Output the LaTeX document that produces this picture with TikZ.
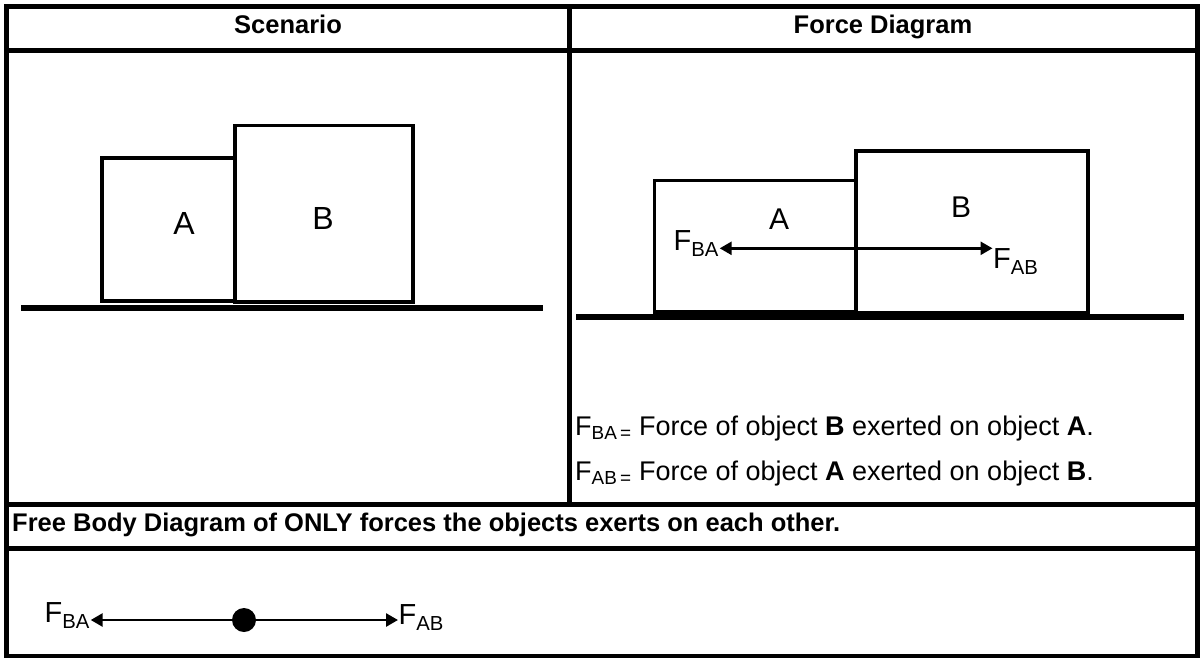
\documentclass[tikz,border=0pt]{standalone}
\usepackage{fontspec}
\setmainfont{Liberation Sans}
\usetikzlibrary{arrows.meta, positioning}

\begin{document}
\begin{tikzpicture}[x=1pt, y=-1pt, >={Triangle[length=12pt, width=13pt]},
    rule/.style={line width=5pt},
    box/.style={line width=3.8pt},
    floor/.style={line width=6pt},
    force/.style={line width=2.7pt},
    head/.style={font=\fontsize{25.5}{30}\selectfont\bfseries, anchor=base},
    big/.style={font=\fontsize{32}{38}\selectfont, inner sep=0pt},
    lbl/.style={font=\fontsize{29}{34}\selectfont, inner sep=0.5pt},
    legend/.style={font=\fontsize{27}{32}\selectfont, anchor=base west, inner sep=0pt}]

    \useasboundingbox (0,0) rectangle (1201,657);

    % --- Table ---
    \draw[rule] (6,6) rectangle (1197.5,656);
    \draw[rule] (6,50.5) -- (1197.5,50.5);
    \draw[rule] (569.5,6) -- (569.5,504);
    \draw[rule] (6,504) -- (1197.5,504);
    \draw[rule] (6,548) -- (1197.5,548);

    % Headers
    \node[head] (hscen) at (288,33) {Scenario};
    \node[head] (hforce) at (883,33) {Force Diagram};

    % --- Scenario ---
    \draw[box] (102,158) rectangle (235,301);
    \draw[box] (235,125.5) rectangle (413,302);
    \draw[floor] (21,308) -- (543,308);
    \node[big] (sa) at (184,223.5) {A};
    \node[big] (sb) at (323,218.5) {B};

    % --- Force Diagram ---
    \draw[box] (654.5,180.5) rectangle (856,312);
    \draw[box] (856,151.3) rectangle (1088,313);
    \draw[floor] (576,317) -- (1184,317);
    \node[big, font=\fontsize{30}{36}\selectfont] (fa) at (779,219) {A};
    \node[big, font=\fontsize{30}{36}\selectfont] (fb) at (961,206.7) {B};

    % Forces between the blocks
    \node[lbl, anchor=mid east] (fba) at (719.7,248.3) {F\textsubscript{BA}};
    \node[lbl, anchor=north west] (fab) at (992.5,248.3) {F\textsubscript{AB}};
    \draw[force, <->] (fba.mid east) -- (fab.north west);

    % Legend
    \node[legend] (defba) at (575,435)
        {F\textsubscript{BA\,=} Force of object \textbf{B} exerted on object \textbf{A}.};
    \node[legend] (defab) at (575,480)
        {F\textsubscript{AB\,=} Force of object \textbf{A} exerted on object \textbf{B}.};

    % --- Free Body Diagram ---
    \node[font=\fontsize{25.5}{30}\selectfont\bfseries, anchor=base west, inner sep=0pt] (note) at (12,531)
        {Free Body Diagram of ONLY forces the objects exerts on each other.};

    \node[circle, fill, inner sep=0pt, minimum size=24pt] (dot) at (244,620) {};
    \node[lbl, anchor=mid east] (gba) at (90.7,620) {F\textsubscript{BA}};
    \node[lbl, anchor=mid west] (gab) at (398,622) {F\textsubscript{AB}};
    \draw[force, ->] (dot) -- (gba.mid east);
    \draw[force, ->] (dot) -- (gab.mid west |- dot);

\end{tikzpicture}
\end{document}
